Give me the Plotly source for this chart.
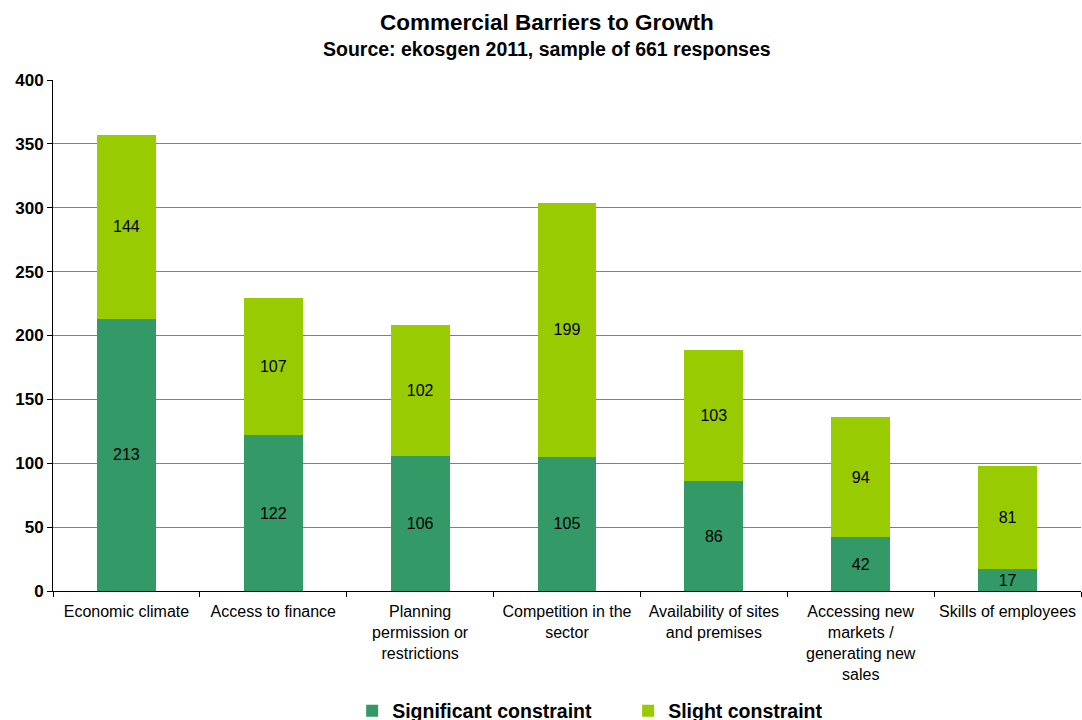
import plotly.graph_objects as go

categories = [
    "Economic climate",
    "Access to finance",
    "Planning<br>permission or<br>restrictions",
    "Competition in the<br>sector",
    "Availability of sites<br>and premises",
    "Accessing new<br>markets /<br>generating new<br>sales",
    "Skills of employees",
]
significant = [213, 122, 106, 105, 86, 42, 17]
slight = [144, 107, 102, 199, 103, 94, 81]

FONT = "Liberation Sans, Arial, sans-serif"
DARK = "#339966"
LIGHT = "#99CC00"

fig = go.Figure()
for vals, name, color in [(significant, "Significant constraint", DARK),
                          (slight, "Slight constraint", LIGHT)]:
    fig.add_trace(go.Bar(
        x=categories, y=vals, name=name,
        marker=dict(color=color, line=dict(width=0)),
        text=vals, textposition="inside", insidetextanchor="middle",
        textangle=0, constraintext="none",
        textfont=dict(family=FONT, size=16, color="black"),
        width=0.4,
    ))

fig.update_layout(
    barmode="stack",
    width=1082, height=720,
    margin=dict(l=53, r=1, t=80, b=129),
    paper_bgcolor="white", plot_bgcolor="white",
    font=dict(family=FONT, color="black"),
    showlegend=True,
    legend=dict(
        orientation="h", x=0.291, xanchor="left",
        yref="container", y=1 - 711 / 720, yanchor="middle",
        font=dict(family=FONT, size=19.5, color="black", weight="bold"),
        entrywidth=231, entrywidthmode="pixels", traceorder="normal",
    ),
    annotations=[
        dict(text="<b>Commercial Barriers to Growth</b>", xref="paper", yref="paper",
             x=494 / 1028, y=1 + 58 / 511, xanchor="center", yanchor="middle",
             showarrow=False, font=dict(family=FONT, size=22.5, color="black")),
        dict(text="<b>Source: ekosgen 2011, sample of 661 responses</b>", xref="paper", yref="paper",
             x=494 / 1028, y=1 + 31 / 511, xanchor="center", yanchor="middle",
             showarrow=False, font=dict(family=FONT, size=19.5, color="black")),
    ],
)

fig.update_xaxes(
    type="category", tickson="boundaries", ticks="outside", ticklen=5,
    tickcolor="black", showline=True, linecolor="black", linewidth=1,
    showgrid=False, tickfont=dict(family=FONT, size=16, color="black"),
    tickangle=0, automargin=False, ticklabelstandoff=6,
)
fig.update_yaxes(
    range=[0, 400], dtick=50, ticks="outside", ticklen=5, tickcolor="black",
    showline=True, linecolor="black", linewidth=1,
    showgrid=True, gridcolor="#808080", gridwidth=1, zeroline=False,
    tickfont=dict(family=FONT, size=17, color="black", weight="bold"),
    automargin=False,
)

fig.write_html("out.html")
